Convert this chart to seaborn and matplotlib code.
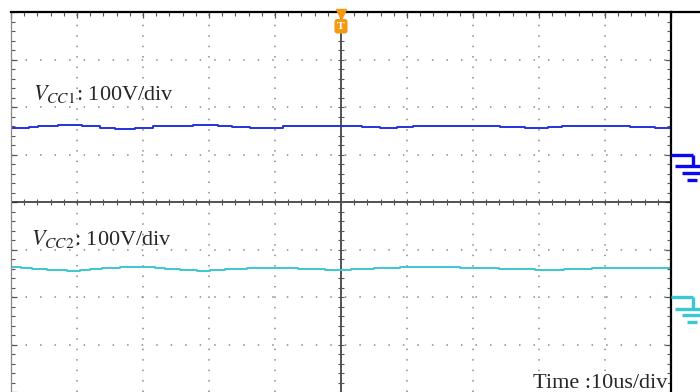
import numpy as np
import pandas as pd
import matplotlib.pyplot as plt
import seaborn as sns
from matplotlib.lines import Line2D

# Oscilloscope capture: two DC rails, 10us/div, 100V/div
t1 = [0, 2.6, 2.9, 5.2, 8.9, 12.7, 14.2, 17.3, 20.3, 22.6, 24.8, 30.2, 32.4, 34.7,
      37.7, 40, 42.3, 45.3, 50, 52.1, 54.4, 57.4, 59.7, 62, 65.8, 68, 72.6, 75.6,
      80.2, 82.4, 84.7, 89.2, 92.3, 95.3, 100]
vcc1 = [55, 55, 58, 61, 62, 60, 56, 54, 56, 59, 61, 62, 60, 58,
        55, 56, 60, 61, 61, 60, 58, 56, 58, 60, 61, 61, 60, 58,
        55, 57, 60, 61, 59, 57, 55]

t2 = [0, 2.9, 3.6, 7.4, 9.7, 11.2, 12.7, 15, 18, 21, 22.6, 24, 27.1, 29.4, 30.9,
      33.9, 37.7, 42, 45, 50, 52.9, 57, 61, 65, 71, 77, 81.7, 86, 90, 94, 100]
vcc2 = [63, 62, 60, 57, 55, 57, 59, 61, 63, 63, 62, 59, 57, 55, 57,
        60, 61, 61, 60, 57, 59, 62, 63, 63, 61, 58, 57, 60, 61, 62, 62]

volts_per_div = 100
offset1 = 1.0    # ground level ch1 (divisions)
offset2 = -2.0   # ground level ch2

blue = "#2233dd"
cyan = "#3cc8d0"
orange = "#f39a12"

sns.set_style("white")
plt.rcParams['font.family'] = ['Liberation Serif', 'DejaVu Serif']
plt.rcParams['mathtext.fontset'] = 'stix'

fig = plt.figure(figsize=(7, 3.92), dpi=100)
ax = fig.add_axes([11 / 700, 0.0, 660 / 700, 380 / 392])

df1 = pd.DataFrame({"t": t1, "y": np.array(vcc1) / volts_per_div + offset1})
df2 = pd.DataFrame({"t": t2, "y": np.array(vcc2) / volts_per_div + offset2})
sns.lineplot(data=df1, x="t", y="y", ax=ax, color=blue, lw=1.4, drawstyle="steps-mid")
sns.lineplot(data=df2, x="t", y="y", ax=ax, color=cyan, lw=1.4, drawstyle="steps-mid")

ax.set_xlim(0, 100)
ax.set_ylim(-4, 4)

# graticule
dot = "#8a8a8a"
for xv in range(10, 100, 10):
    if xv != 50:
        ax.axvline(xv, color=dot, lw=1.1, dashes=(1.0, 5.84), zorder=0)
for yv in range(-3, 4):
    if yv != 0:
        ax.axhline(yv, color=dot, lw=1.1, dashes=(1.0, 8.5), zorder=0)
ax.axhline(0, color="#222222", lw=1.1, zorder=1)
ax.axvline(50, color="#222222", lw=1.1, zorder=1)
ax.plot(np.arange(0, 100.1, 2), np.zeros(51), ls="none", marker="|", ms=5,
        mew=0.8, color="#555555", zorder=1)
ax.plot(np.full(41, 50), np.arange(-4, 4.01, 0.2), ls="none", marker="_", ms=5,
        mew=0.8, color="#555555", zorder=1)

ax.set_xticks(np.arange(0, 101, 10))
ax.set_yticks(np.arange(-4, 5, 1))
ax.set_xticks(np.arange(0, 101, 2), minor=True)
ax.set_yticks(np.arange(-4, 4.01, 0.2), minor=True)
ax.tick_params(which="both", direction="in", top=True, bottom=False, left=True,
               right=True, labelbottom=False, labelleft=False, color="#555555")
ax.tick_params(which="major", length=4, width=0.9)
ax.tick_params(which="minor", length=3, width=0.8)
ax.set_xlabel("")
ax.set_ylabel("")

for s in ["top", "right"]:
    ax.spines[s].set_color("black")
    ax.spines[s].set_linewidth(1.6)
ax.spines["left"].set_color("#888888")
ax.spines["left"].set_linewidth(0.9)
ax.spines["bottom"].set_visible(False)

# top border runs on to the image edge
fig.add_artist(Line2D([671 / 700, 1.0], [380 / 392, 380 / 392], color="black", lw=1.6))

# labels
ax.text(3.33, 2.147, r"$V_{CC\mathrm{1}}$: 100V/div", fontsize=16, va="baseline")
ax.text(3.03, -0.905, r"$V_{CC\mathrm{2}}$: 100V/div", fontsize=16, va="baseline")
ax.text(99.5, -3.92, "Time :10us/div", fontsize=16, va="baseline", ha="right",
        bbox=dict(facecolor="white", edgecolor="none", pad=0.5))

# trigger marker
ax.plot([50], [3.95], marker="v", ms=7, color=orange, clip_on=False, zorder=5)
ax.text(50, 3.70, "T", fontsize=8, fontweight="bold", color="white", ha="center",
        va="center", zorder=6,
        bbox=dict(boxstyle="round,pad=0.25", facecolor=orange, edgecolor="none"))


# ground markers right of the screen
def ground(y_px, color):
    segs = [([671, 693], [y_px, y_px]),
            ([693, 693], [y_px, y_px + 11]),
            ([675, 700], [y_px + 11.5, y_px + 11.5]),
            ([682, 700], [y_px + 18, y_px + 18]),
            ([687, 697], [y_px + 25, y_px + 25])]
    for xs, ys in segs:
        fig.add_artist(Line2D([x / 700 for x in xs], [1 - y / 392 for y in ys],
                              color=color, lw=2.4, solid_capstyle="butt"))


ground(202 - offset1 * 47.5, "#0a0af0")
ground(202 - offset2 * 47.5, cyan)

fig.savefig("out.png", dpi=100)
